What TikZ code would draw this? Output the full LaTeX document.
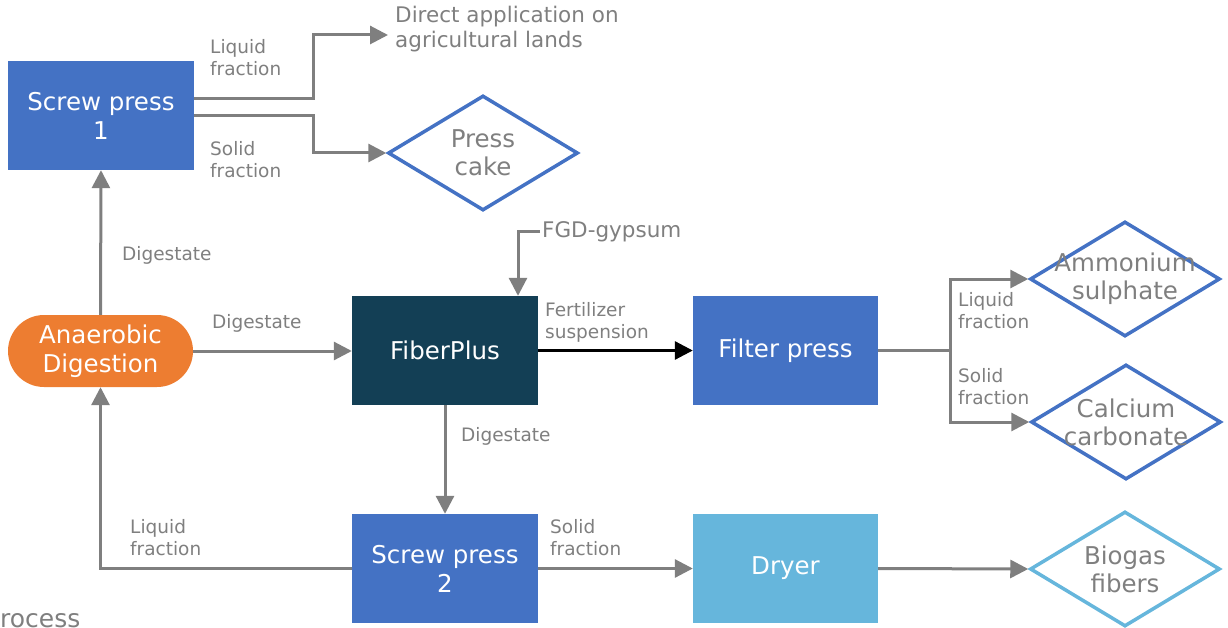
\documentclass[tikz,border=0pt]{standalone}
\usepackage{fontspec}
\setmainfont{DejaVu Sans}
\usetikzlibrary{arrows.meta,shapes.geometric}
\definecolor{gblue}{HTML}{4472C4}
\definecolor{gorange}{HTML}{ED7D31}
\definecolor{gdark}{HTML}{133F55}
\definecolor{glight}{HTML}{66B6DC}
\definecolor{ggray}{HTML}{7F7F7F}
\tikzset{
  procbox/.style={rectangle, minimum width=186, minimum height=109, inner sep=0, text=white, align=center, font=\fontsize{24.5}{29}\selectfont},
  prod/.style={diamond, aspect=1.65, minimum width=190, minimum height=115, inner sep=0, line width=3.5pt, draw=gblue},
  prodtext/.style={text=ggray, align=center, font=\fontsize{24.5}{28}\selectfont, inner sep=0},
  lbl/.style={text=ggray, align=left, anchor=west, inner sep=0, font=\fontsize{18.5}{22}\selectfont},
  flow/.style={draw=ggray, line width=3pt, -{Triangle[length=18pt,width=18pt]}},
  plain/.style={draw=ggray, line width=3pt},
}
\begin{document}
\begin{tikzpicture}[x=1pt,y=-1pt]
\useasboundingbox (0,0) rectangle (1228,628);
\clip (0,0) rectangle (1228,628);
% process nodes
\node[procbox, fill=gblue] (sp1) at (101,115.5) {Screw press\\1};
\node[procbox, fill=gorange, minimum width=185, minimum height=72, rounded corners=36pt] (ad) at (100.5,351) {Anaerobic\\Digestion};
\node[procbox, fill=gdark] (fp) at (445,350.5) {FiberPlus};
\node[procbox, fill=gblue, minimum width=185] (flt) at (785.5,350.5) {Filter press};
\node[procbox, fill=gblue] (sp2) at (445,568.5) {Screw press\\2};
\node[procbox, fill=glight, minimum width=185] (dry) at (785.5,568.5) {Dryer};
% products
\node[prod] (cake) at (483,153) {};
\node[prodtext] (caket) at (cake.center) {Press\\cake};
\node[prod] (am) at (1125,279) {};
\node[prodtext] (amt) at (am.center) {Ammonium\\sulphate};
\node[prod] (ca) at (1126,422) {};
\node[prodtext] (cat) at (ca.center) {Calcium\\carbonate};
\node[prod, draw=glight] (bio) at (1125,569) {};
\node[prodtext] (biot) at (bio.center) {Biogas\\fibers};
\node[text=ggray, align=left, anchor=west, inner xsep=7pt, inner ysep=0, font=\fontsize{21.5}{25}\selectfont] (direct) at (388,29.5) {Direct application on\\agricultural lands};
\node[text=ggray, anchor=west, inner xsep=2pt, inner ysep=0, font=\fontsize{21.5}{25}\selectfont] (fgd) at (540,232) {FGD-gypsum};
% connectors
\draw[flow] (sp1.east |- 0,99) -- (313,99) -- (313,35) -- (direct.west |- 0,35);
\draw[flow] (sp1.east |- 0,116) -- (313,116) |- (cake.west);
\draw[flow] (ad.north) -- (sp1.south);
\draw[flow] (ad.east |- 0,351) -- (fp.west |- 0,351);
\draw[flow] (fgd.west) -| (fp.north -| 518,0);
\draw[line width=3pt, -{Triangle[length=18pt,width=18pt]}] (fp.east) -- (flt.west);
\draw[plain] (flt.east) -- (950,350.5) coordinate (split);
\draw[flow] (split) |- (am.west);
\draw[flow] (split) |- (ca.west);
\draw[flow] (fp.south) -- (sp2.north);
\draw[flow] (sp2.west) -| (ad.south);
\draw[flow] (sp2.east) -- (dry.west);
\draw[flow] (dry.east) -- (bio.west);
% labels
\node[lbl] (l1) at (210,58) {Liquid\\fraction};
\node[lbl] (l2) at (210,160) {Solid\\fraction};
\node[lbl] (l3) at (122,255) {Digestate};
\node[lbl] (l4) at (212,323) {Digestate};
\node[lbl] (l5) at (545,322.5) {Fertilizer\\suspension};
\node[lbl] (l6) at (461,436) {Digestate};
\node[lbl] (l7) at (130,538) {Liquid\\fraction};
\node[lbl] (l8) at (550,538) {Solid\\fraction};
\node[lbl] (l9) at (958,311) {Liquid\\fraction};
\node[lbl] (l10) at (958,387) {Solid\\fraction};
\node[text=ggray, anchor=base west, inner sep=0, font=\fontsize{25}{30}\selectfont] (proc) at (0,627) {rocess};
\end{tikzpicture}
\end{document}
